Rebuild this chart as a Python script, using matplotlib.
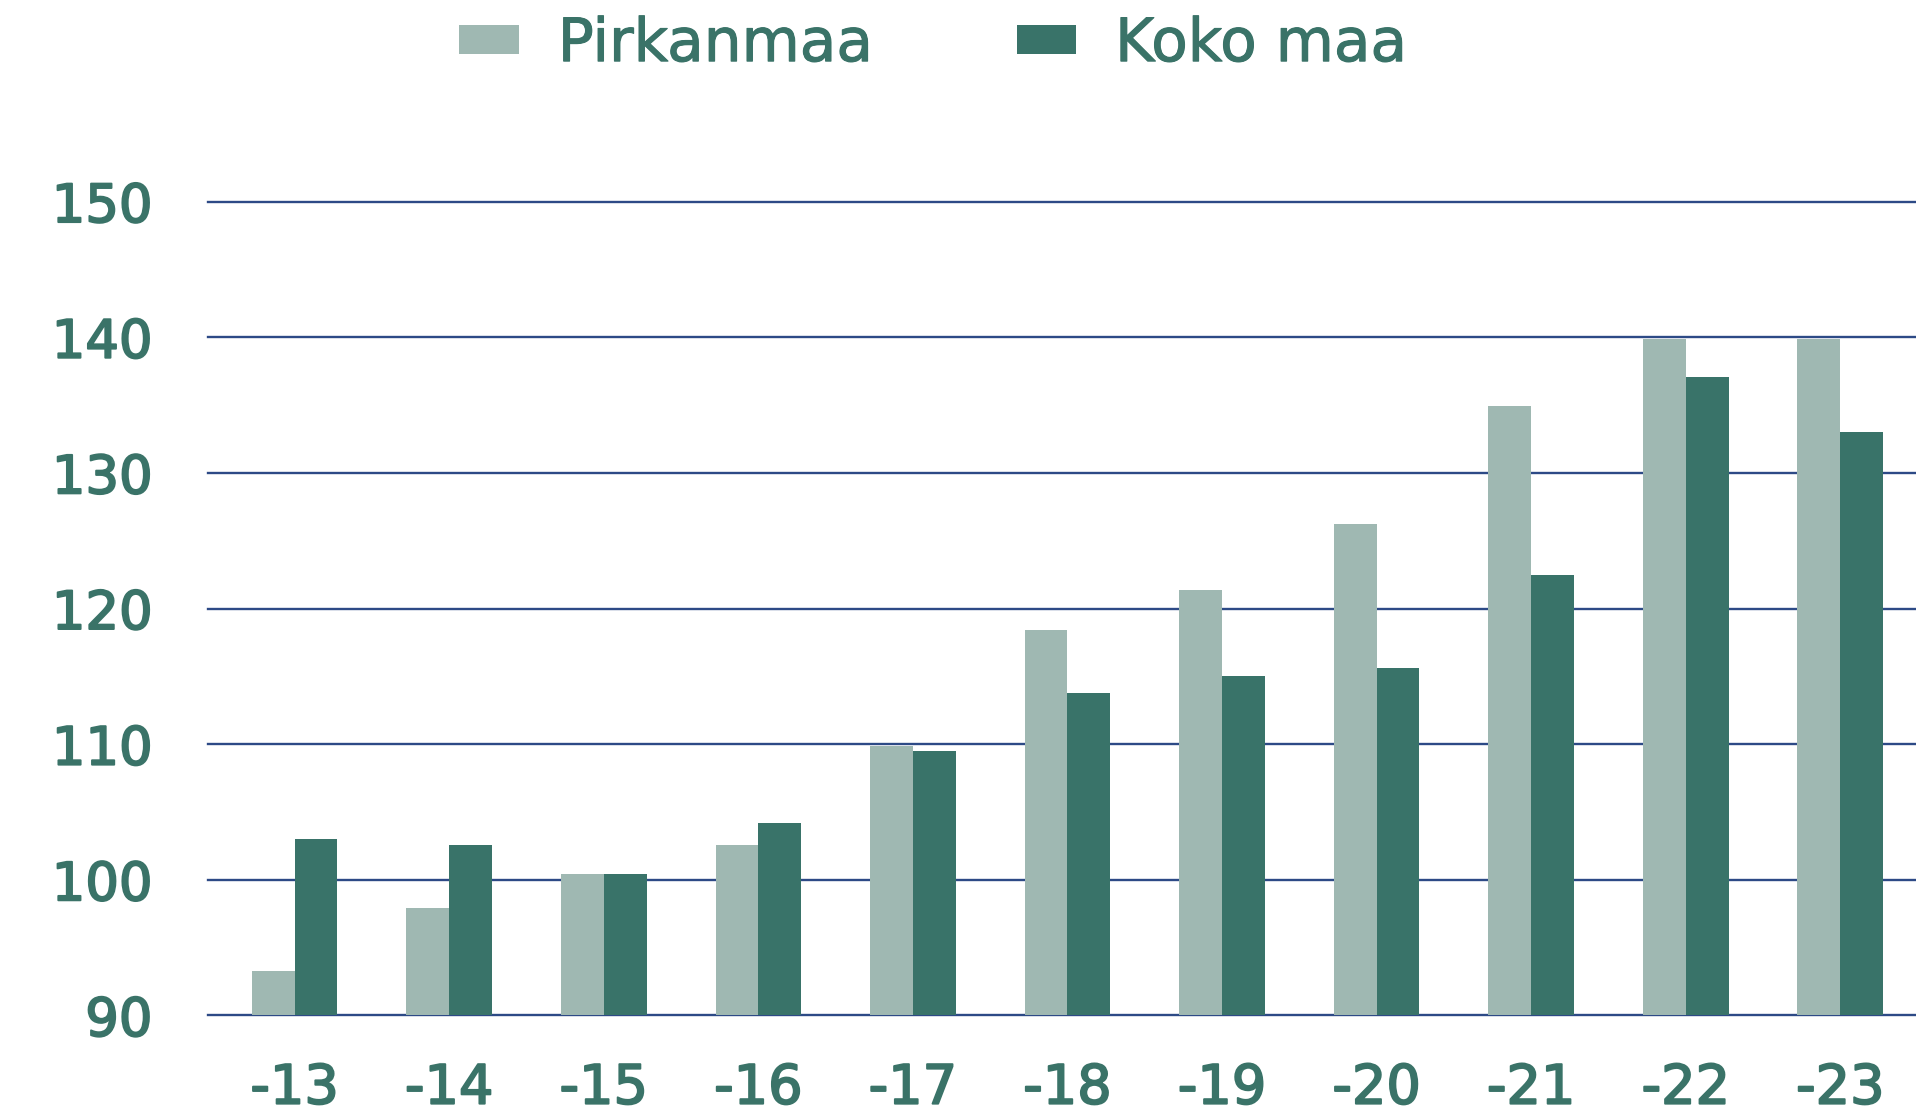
import numpy as np
import matplotlib
matplotlib.use("Agg")
import matplotlib.pyplot as plt
import matplotlib.patheffects as pe

# values
years = ["-13", "-14", "-15", "-16", "-17", "-18", "-19", "-20", "-21", "-22", "-23"]
pirkanmaa = [93.3, 97.9, 100.4, 102.6, 109.9, 118.4, 121.4, 126.2, 134.9, 139.9, 139.9]
koko_maa = [103.0, 102.6, 100.4, 104.2, 109.5, 113.8, 115.0, 115.6, 122.5, 137.1, 133.0]
y_ticks = [90, 100, 110, 120, 130, 140, 150]

LIGHT = "#9fb8b2"
DARK = "#397369"
TEXT = "#3a7368"
GRID = "#2d4a86"

plt.rcParams["font.family"] = ["DejaVu Sans"]

fig = plt.figure(figsize=(19.16, 11.15), dpi=100)
ax = fig.add_axes([0.1086, 0.0893, 0.8914, 0.7299])

x = np.arange(len(years))
w = 0.277
ax.bar(x - w / 2, pirkanmaa, width=w, color=LIGHT, label="Pirkanmaa", zorder=3)
ax.bar(x + w / 2, koko_maa, width=w, color=DARK, label="Koko maa", zorder=3)

for t in y_ticks:
    ax.axhline(t, color=GRID, lw=1.7, zorder=1, clip_on=False)

ax.set_ylim(90, 150)
ax.set_xlim(-0.56, len(years) - 0.51)
ax.set_yticks(y_ticks)
ax.set_xticks(x)
ax.set_xticklabels(years)
for s in ax.spines.values():
    s.set_visible(False)
ax.tick_params(axis="both", length=0, colors=TEXT)
ax.tick_params(axis="y", labelsize=38, pad=40)
ax.tick_params(axis="x", labelsize=39, pad=34)

# heavier strokes, the original uses a semibold face
heavy = [pe.withStroke(linewidth=1.4, foreground=TEXT)]
for lbl in ax.get_xticklabels() + ax.get_yticklabels():
    lbl.set_path_effects(heavy)

leg = fig.legend(loc="center", bbox_to_anchor=(0.487, 0.960), ncol=2, frameon=False,
                 fontsize=43, labelcolor=TEXT, handlelength=1.0, handleheight=0.38,
                 handletextpad=0.65, columnspacing=2.4)
for t in leg.get_texts():
    t.set_path_effects([pe.withStroke(linewidth=0.8, foreground=TEXT)])

fig.savefig("out.png", dpi=100)
